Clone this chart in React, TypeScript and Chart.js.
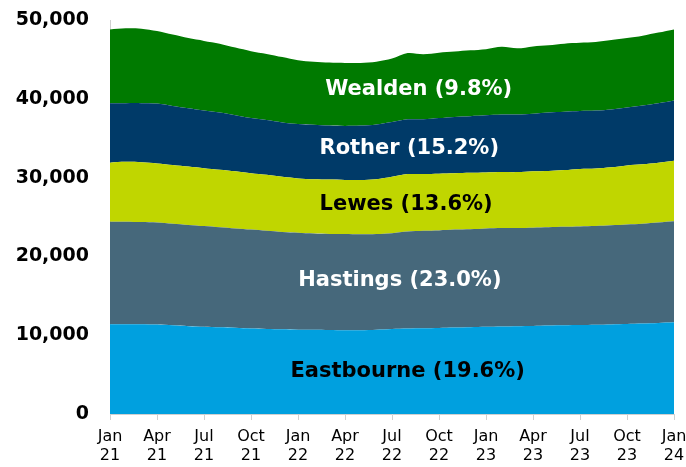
import React, { useEffect, useRef } from "react";
import { Chart, registerables } from "chart.js";

Chart.register(...registerables);

const months = [
  "Jan 21","Feb 21","Mar 21","Apr 21","May 21","Jun 21","Jul 21","Aug 21","Sep 21","Oct 21","Nov 21","Dec 21",
  "Jan 22","Feb 22","Mar 22","Apr 22","May 22","Jun 22","Jul 22","Aug 22","Sep 22","Oct 22","Nov 22","Dec 22",
  "Jan 23","Feb 23","Mar 23","Apr 23","May 23","Jun 23","Jul 23","Aug 23","Sep 23","Oct 23","Nov 23","Dec 23",
  "Jan 24",
];

const eastbourne = [
  11400, 11400, 11400, 11350, 11250, 11150, 11080, 11000, 10950, 10850, 10800, 10750,
  10700, 10680, 10650, 10620, 10620, 10700, 10800, 10850, 10880, 10920, 10980, 11020,
  11060, 11100, 11150, 11180, 11220, 11250, 11280, 11320, 11370, 11420, 11480, 11560,
  11650,
];
const hastings = [
  13000, 13000, 12950, 12950, 12900, 12850, 12770, 12700, 12600, 12550, 12450, 12350,
  12300, 12220, 12200, 12230, 12180, 12150, 12150, 12300, 12370, 12380, 12420, 12430,
  12490, 12500, 12450, 12470, 12480, 12500, 12520, 12530, 12580, 12630, 12670, 12740,
  12800,
];
const lewes = [
  7500, 7600, 7600, 7500, 7450, 7400, 7350, 7300, 7250, 7150, 7100, 7000,
  6900, 6900, 6900, 6850, 6900, 6950, 7150, 7300, 7200, 7200, 7150, 7150,
  7100, 7100, 7100, 7150, 7150, 7200, 7300, 7300, 7350, 7500, 7550, 7600,
  7700,
];
const rother = [
  7530, 7450, 7500, 7600, 7500, 7400, 7300, 7250, 7100, 7000, 6950, 6900,
  6900, 6900, 6850, 6850, 6900, 6950, 6950, 6950, 6950, 7050, 7150, 7200,
  7250, 7300, 7300, 7300, 7400, 7400, 7350, 7350, 7350, 7350, 7450, 7550,
  7650,
];
const wealden = [
  9370, 9500, 9450, 9200, 9050, 8900, 8850, 8750, 8600, 8500, 8400, 8300,
  8100, 8000, 8000, 8000, 7950, 7950, 8050, 8400, 8250, 8300, 8300, 8350,
  8400, 8600, 8400, 8550, 8550, 8650, 8650, 8700, 8800, 8800, 8850, 8950,
  9000,
];

const seriesNames = ["Eastbourne", "Hastings", "Lewes", "Rother", "Wealden"];
const seriesLabels = [
  "Eastbourne (19.6%)",
  "Hastings (23.0%)",
  "Lewes (13.6%)",
  "Rother (15.2%)",
  "Wealden (9.8%)",
];
const seriesColors = ["#00A0DF", "#46687B", "#C0D600", "#003A68", "#007A00"];
const labelColors = ["#000000", "#ffffff", "#000000", "#ffffff", "#ffffff"];
// annotation anchors in data coordinates (month index, value)
const labelMonth = [19.0, 18.5, 18.9, 19.1, 19.7];
const labelValue = [5390, 16940, 26520, 33690, 41120];

const yTicks = [0, 10000, 20000, 30000, 40000, 50000];

const FONT = "'DejaVu Sans', Verdana, sans-serif";

const areaLabels = {
  id: "areaLabels",
  afterDatasetsDraw(chart: any) {
    const { ctx, scales } = chart;
    ctx.save();
    ctx.font = `bold 21px ${FONT}`;
    ctx.textAlign = "center";
    ctx.textBaseline = "middle";
    for (let i = 0; i < seriesLabels.length; i++) {
      const x = scales.x.getPixelForValue(labelMonth[i]);
      const y = scales.y.getPixelForValue(labelValue[i]);
      ctx.fillStyle = labelColors[i];
      ctx.fillText(seriesLabels[i], x, y);
    }
    ctx.restore();
  },
};

export default function App() {
  const ref = useRef<HTMLCanvasElement>(null);
  useEffect(() => {
    document.body.style.margin = "0";
    const data = [eastbourne, hastings, lewes, rother, wealden];
    const chart = new Chart(ref.current as HTMLCanvasElement, {
      type: "line",
      data: {
        labels: months,
        datasets: data.map((d, i) => ({
          label: seriesNames[i],
          data: d,
          backgroundColor: seriesColors[i],
          borderColor: seriesColors[i],
          borderWidth: 0,
          pointRadius: 0,
          tension: 0.3,
          fill: i === 0 ? "origin" : "-1",
        })),
      },
      options: {
        responsive: false,
        animation: false,
        devicePixelRatio: 1,
        layout: { padding: { top: 20, right: 12, left: 0, bottom: 0 } },
        plugins: {
          legend: { display: false },
          tooltip: { enabled: false },
        },
        scales: {
          x: {
            offset: false,
            grid: {
              drawOnChartArea: false,
              drawTicks: true,
              tickLength: 6,
              color: "#d0d0d0",
            },
            border: { display: true, color: "#d0d0d0" },
            ticks: {
              autoSkip: false,
              maxRotation: 0,
              padding: 7,
              color: "#000000",
              font: { family: FONT, size: 16, lineHeight: 1.2 },
              callback: (_v: any, idx: number) =>
                idx % 3 === 0 ? months[idx].split(" ") : null,
            },
            afterFit: (s: any) => {
              s.height = 53;
              s.paddingLeft = 0;
              s.paddingRight = 0;
            },
          },
          y: {
            stacked: true,
            min: 0,
            max: 50000,
            afterBuildTicks: (s: any) => {
              s.ticks = yTicks.map((v) => ({ value: v }));
            },
            grid: { display: false, drawTicks: false },
            border: { display: true, color: "#d0d0d0" },
            ticks: {
              padding: 21,
              color: "#000000",
              font: { family: FONT, size: 19, weight: "bold" },
              callback: (v: any) => Number(v).toLocaleString("en-US"),
            },
            afterFit: (s: any) => {
              s.width = 110;
              s.paddingTop = 0;
              s.paddingBottom = 0;
            },
          },
        },
      },
      plugins: [areaLabels],
    });
    return () => chart.destroy();
  }, []);
  return (
    <div style={{ width: 686, height: 467 }}>
      <canvas ref={ref} width={686} height={467} style={{ display: "block" }} />
    </div>
  );
}
